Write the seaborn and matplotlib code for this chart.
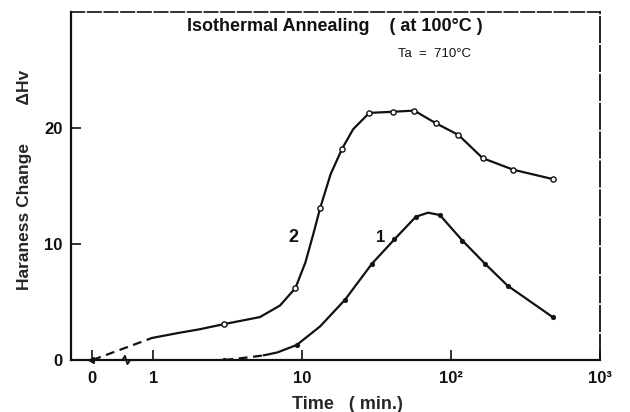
import numpy as np
import pandas as pd
import matplotlib
matplotlib.use("Agg")
import matplotlib.pyplot as plt
import seaborn as sns
from matplotlib.transforms import blended_transform_factory

# ---------------- data ----------------
ZERO_POS = 0.39  # position of t = 0 on the broken log axis

# curve 2 : measured points
c2_t = [0, 3.0, 9.0, 13.2, 18.5, 28.2, 40.6, 56.5, 79.3, 112, 163, 262, 481]
c2_v = [0, 3.1, 6.2, 13.1, 18.2, 21.3, 21.4, 21.5, 20.4, 19.4, 17.4, 16.4, 15.6]
# curve 2 : drawn line (dashed start, then solid trace)
c2_dash_t = [0, 0.98]
c2_dash_v = [0, 1.9]
c2_line_t = [0.98, 1.5, 2.05, 3.0, 5.2, 7.1, 9.0, 10.5, 11.9, 13.2, 15.5, 18.5, 22, 28.2,
             40.6, 56.5, 79.3, 112, 163, 262, 481]
c2_line_v = [1.9, 2.35, 2.65, 3.1, 3.7, 4.7, 6.2, 8.4, 10.9, 13.1, 16.0, 18.2, 19.9, 21.3,
             21.4, 21.5, 20.4, 19.4, 17.4, 16.4, 15.6]

# curve 1 : measured points
c1_t = [0, 3.0, 9.2, 19.4, 29.4, 41.6, 58, 84, 119, 169, 240, 481]
c1_v = [0, 0.0, 1.3, 5.2, 8.3, 10.4, 12.35, 12.5, 10.3, 8.3, 6.4, 3.7]
c1_dash_t = [3.0, 4.5, 5.5]
c1_dash_v = [0.0, 0.25, 0.4]
c1_line_t = [5.5, 6.8, 9.2, 13.2, 19.4, 29.4, 41.6, 58, 70, 84, 119, 169, 240, 481]
c1_line_v = [0.4, 0.65, 1.3, 2.9, 5.2, 8.3, 10.4, 12.35, 12.7, 12.5, 10.3, 8.3, 6.4, 3.7]

x_tick_vals = [0, 1, 10, 100, 1000]
x_tick_labels = ["0", "1", "10", "10²", "10³"]
y_tick_vals = [0, 10, 20]
y_tick_labels = ["0", "10", "20"]


def pos(ts):
    return [ZERO_POS if t == 0 else t for t in ts]


# ---------------- style ----------------
sns.set_style("ticks")
plt.rcParams["font.family"] = ["Liberation Sans", "DejaVu Sans"]
plt.rcParams["font.weight"] = "bold"

fig = plt.figure(figsize=(6.3, 4.12), dpi=100)
L, R, T, B = 71, 600, 12, 360
ax = fig.add_axes([L / 630, 1 - B / 412, (R - L) / 630, (B - T) / 412])

ink = "#111111"

# lines
sns.lineplot(x=pos(c2_dash_t), y=c2_dash_v, ax=ax, color=ink, lw=1.6,
             linestyle=(0, (4, 2.5)), sort=False, estimator=None)
sns.lineplot(x=pos(c2_line_t), y=c2_line_v, ax=ax, color=ink, lw=1.6,
             sort=False, estimator=None)
sns.lineplot(x=pos(c1_dash_t), y=c1_dash_v, ax=ax, color=ink, lw=1.6,
             linestyle=(0, (4, 2.5)), sort=False, estimator=None)
sns.lineplot(x=pos(c1_line_t), y=c1_line_v, ax=ax, color=ink, lw=1.6,
             sort=False, estimator=None)

# markers
sns.scatterplot(x=pos(c2_t[1:]), y=c2_v[1:], ax=ax, s=14, marker="o",
                facecolor="white", edgecolor=ink, linewidth=1.0, zorder=5)
sns.scatterplot(x=pos(c1_t[1:]), y=c1_v[1:], ax=ax, s=12, marker="o",
                color=ink, edgecolor=ink, zorder=5)
ax.plot([ZERO_POS], [0], marker=(3, 0, 90), ms=5, color=ink, zorder=6,
        clip_on=False)

ax.set_xscale("log")
ax.set_xlim(0.28, 1000)
ax.set_ylim(0, 30)
ax.minorticks_off()
ax.set_xticks(pos(x_tick_vals))
ax.set_xticklabels(x_tick_labels)
ax.set_yticks(y_tick_vals)
ax.set_yticklabels(y_tick_labels)
ax.tick_params(axis="both", direction="in", length=7, width=1.2, colors=ink,
               labelsize=12, pad=8)
ax.tick_params(axis="x", top=False)
ax.tick_params(axis="y", right=False, pad=6)
for lab in ax.get_xticklabels() + ax.get_yticklabels():
    lab.set_fontweight("bold")

for side in ["left", "bottom"]:
    ax.spines[side].set_linewidth(1.6)
    ax.spines[side].set_color(ink)
ax.spines["top"].set_linewidth(1.2)
ax.spines["top"].set_linestyle((0, (8, 2)))
ax.spines["right"].set_linewidth(1.3)
ax.spines["right"].set_linestyle((0, (14, 2)))
for side in ["top", "right"]:
    ax.spines[side].set_color(ink)

# axis break zigzag
tr = blended_transform_factory(ax.transData, ax.transAxes)
zx = [0.58, 0.62, 0.645, 0.67, 0.70, 0.74]
zy = [0.0, 0.0, 0.012, -0.012, 0.0, 0.0]
ax.plot(zx, zy, color=ink, lw=1.3, transform=tr, clip_on=False, zorder=7)

# labels
ax.set_xlabel("Time   ( min.)", fontsize=13, fontweight="bold")
ax.xaxis.set_label_coords(0.522, -0.103)
ax.set_ylabel("Haraness Change        ΔHv", fontsize=12.5, fontweight="bold")
ax.yaxis.set_label_coords(-0.074, 0.517)

ax.text(0.498, 0.958, "Isothermal Annealing    ( at 100°C )", transform=ax.transAxes,
        ha="center", va="center", fontsize=13, fontweight="bold", color=ink)
ax.text(0.688, 0.88, "Ta  =  710°C", transform=ax.transAxes, ha="center",
        va="center", fontsize=9.5, fontweight="normal", color=ink)

ax.text(8.7, 10.6, "2", fontsize=13, fontweight="bold", color=ink,
        ha="center", va="center")
ax.text(33.4, 10.6, "1", fontsize=12, fontweight="bold", color=ink,
        ha="center", va="center")

fig.savefig("out.png", dpi=100)
